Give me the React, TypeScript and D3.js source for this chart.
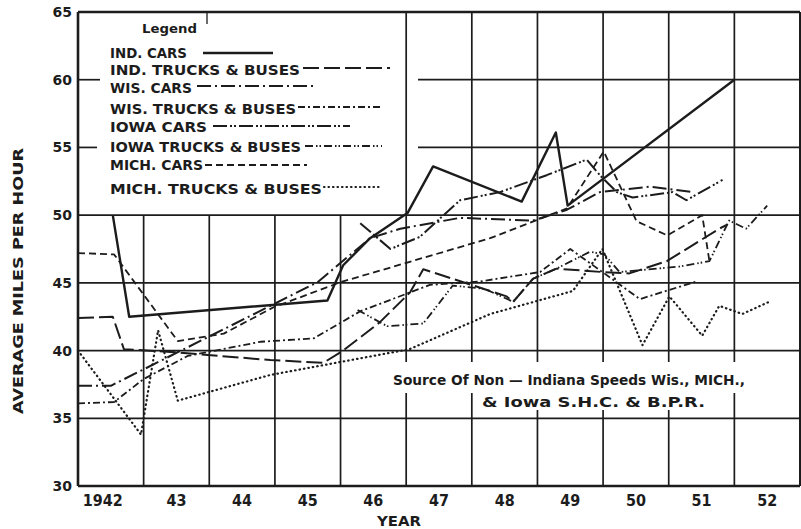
import { useMemo } from 'react';
import * as d3 from 'd3';

const WIDTH = 801;
const HEIGHT = 529;
const PLOT = { left: 78, right: 800, top: 12, bottom: 486 };
const INK = '#1c1c1c';
const FONT = '"DejaVu Sans", Arial, sans-serif';

// years are bands; lines are drawn at fractional years
const YEARS = [1942, 1943, 1944, 1945, 1946, 1947, 1948, 1949, 1950, 1951, 1952];
const YEAR_LABELS = ['1942', '43', '44', '45', '46', '47', '48', '49', '50', '51', '52'];
const MPH_TICKS = [30, 35, 40, 45, 50, 55, 60, 65];

const SERIES_NAMES = [
    'IND. CARS',
    'IND. TRUCKS & BUSES',
    'WIS. CARS',
    'WIS. TRUCKS & BUSES',
    'IOWA  CARS',
    'IOWA TRUCKS & BUSES',
    'MICH. CARS',
    'MICH. TRUCKS & BUSES',
];

// [year, mph]
const IND_CARS: [number, number][] = [
    [1942.03, 50.0], [1942.28, 42.5], [1945.3, 43.7], [1945.54, 46.3], [1945.95, 48.3],
    [1946.52, 50.15], [1946.91, 53.6], [1948.26, 51.0], [1948.78, 56.1], [1948.96, 50.7],
    [1951.5, 60.0],
];
const IND_TRUCKS: [number, number][] = [
    [1941.5, 42.4], [1942.03, 42.5], [1942.2, 40.1], [1942.91, 39.9], [1944.43, 39.3],
    [1945.24, 39.1], [1945.54, 40.0], [1946.1, 42.1], [1946.56, 44.3], [1946.76, 46.0],
    [1947.02, 45.6], [1948.03, 44.0], [1948.13, 43.6], [1948.43, 45.3], [1948.79, 46.05],
    [1949.49, 45.8], [1949.9, 45.7], [1950.47, 46.6], [1951.27, 49.0], [1951.39, 49.3],
];
const WIS_CARS: [number, number][] = [
    [1941.5, 37.4], [1942.0, 37.4], [1944.43, 43.3], [1945.15, 45.05], [1945.95, 48.3],
    [1946.41, 49.0], [1947.32, 49.8], [1948.43, 49.6], [1948.95, 50.4], [1949.45, 51.7],
    [1950.21, 52.1], [1950.86, 51.7],
];
const WIS_TRUCKS: [number, number][] = [
    [1941.5, 36.1], [1942.05, 36.2], [1942.5, 37.9], [1943.17, 39.6], [1944.28, 40.65],
    [1945.09, 40.9], [1945.8, 42.9], [1946.86, 44.85], [1947.62, 45.1], [1948.54, 45.8],
    [1949.0, 47.5], [1949.49, 45.8], [1950.06, 43.8], [1950.92, 45.1],
];
const IOWA_CARS: [number, number][] = [
    [1945.8, 49.4], [1946.26, 47.5], [1946.71, 48.4], [1947.32, 51.1], [1947.93, 51.7],
    [1948.64, 52.95], [1949.25, 54.1], [1949.45, 52.95], [1949.71, 51.7], [1949.95, 51.3],
    [1950.56, 51.7], [1950.77, 51.1], [1951.32, 52.6],
];
const IOWA_TRUCKS: [number, number][] = [
    [1945.76, 43.0], [1946.21, 41.8], [1946.76, 42.0], [1946.97, 43.3], [1947.21, 44.8],
    [1947.7, 44.55], [1948.13, 43.6], [1948.43, 45.3], [1948.79, 46.05], [1949.3, 47.3],
    [1949.52, 47.1], [1949.75, 45.8], [1950.66, 46.2], [1951.12, 46.6], [1951.42, 49.6],
    [1951.68, 49.0], [1952.0, 50.7],
];
const MICH_CARS: [number, number][] = [
    [1941.5, 47.2], [1942.05, 47.1], [1943.02, 40.7], [1943.72, 41.25], [1944.48, 43.2],
    [1945.5, 45.05], [1947.78, 48.3], [1948.95, 50.5], [1949.51, 54.7], [1950.01, 49.55],
    [1950.48, 48.5], [1951.01, 50.0], [1951.12, 46.6],
];
const MICH_TRUCKS: [number, number][] = [
    [1941.5, 40.0], [1942.46, 33.8], [1942.72, 41.5], [1943.02, 36.3], [1944.43, 38.2],
    [1946.55, 40.1], [1947.78, 42.7], [1949.04, 44.4], [1949.49, 47.5], [1950.1, 40.4],
    [1950.51, 44.0], [1951.01, 41.1], [1951.27, 43.3], [1951.62, 42.7], [1952.03, 43.6],
];

const SERIES = [IND_CARS, IND_TRUCKS, WIS_CARS, WIS_TRUCKS, IOWA_CARS, IOWA_TRUCKS, MICH_CARS, MICH_TRUCKS];

const STYLES = [
    { dash: undefined, width: 2.4, cap: 'butt' },
    { dash: '16 5', width: 2, cap: 'butt' },
    { dash: '14 4 2 4', width: 2, cap: 'butt' },
    { dash: '7 3 2 3', width: 1.8, cap: 'butt' },
    { dash: '14 3 2 2 2 3', width: 2, cap: 'butt' },
    { dash: '8 3 1.5 2 1.5 3', width: 1.8, cap: 'butt' },
    { dash: '7 4', width: 1.8, cap: 'butt' },
    { dash: '0.5 4', width: 2.2, cap: 'round' },
];

// legend layout: text baseline, text width, sample line
const LEGEND_LAYOUT = [
    { ty: 58, tw: 77, x1: 203, x2: 273, ly: 53 },
    { ty: 75, tw: 190, x1: 303, x2: 390, ly: 68 },
    { ty: 93, tw: 82, x1: 197, x2: 317, ly: 86 },
    { ty: 114, tw: 186, x1: 298, x2: 382, ly: 107 },
    { ty: 132, tw: 97, x1: 213, x2: 350, ly: 126 },
    { ty: 152, tw: 191, x1: 305, x2: 382, ly: 146 },
    { ty: 170, tw: 93, x1: 205, x2: 307, ly: 165 },
    { ty: 194, tw: 212, x1: 324, x2: 380, ly: 187 },
];

export default function App() {
    const xScale = useMemo(
        () => d3.scaleLinear().domain([1941.5, 1952.5]).range([PLOT.left, PLOT.right]),
        []
    );
    const yScale = useMemo(
        () => d3.scaleLinear().domain([30, 65]).range([PLOT.bottom, PLOT.top]),
        []
    );
    const line = d3
        .line<[number, number]>()
        .x((d) => xScale(d[0]))
        .y((d) => yScale(d[1]));

    // vertical grid at band boundaries; left ones stop under the legend
    const vGrid = YEARS.slice(0, -1).map((yr) => {
        const x = xScale(yr + 0.5);
        const top = yr + 0.5 < 1946 ? yScale(50) : yScale(65);
        return <line key={yr} x1={x} x2={x} y1={top} y2={yScale(30)} stroke={INK} strokeWidth={1.7} />;
    });

    const hGrid = MPH_TICKS.filter((m) => m > 30 && m < 65).map((m) => {
        const x1 = m > 50 ? 418 : PLOT.left;
        return <line key={m} x1={x1} x2={PLOT.right} y1={yScale(m)} y2={yScale(m)} stroke={INK} strokeWidth={1.7} />;
    });

    return (
        <div style={{ position: 'absolute', left: 0, top: 0 }}>
            <svg width={WIDTH} height={HEIGHT} viewBox={`0 0 ${WIDTH} ${HEIGHT}`} style={{ display: 'block', background: '#fff' }}>
                {vGrid}
                {hGrid}
                {/* frame */}
                <line x1={PLOT.left} x2={PLOT.right} y1={yScale(65)} y2={yScale(65)} stroke={INK} strokeWidth={2.6} />
                <line x1={PLOT.left} x2={PLOT.right} y1={yScale(30)} y2={yScale(30)} stroke={INK} strokeWidth={2.6} />
                <line x1={PLOT.left} x2={PLOT.left} y1={yScale(65)} y2={yScale(30)} stroke={INK} strokeWidth={2.6} />
                <line x1={PLOT.right} x2={PLOT.right} y1={yScale(65)} y2={yScale(30)} stroke={INK} strokeWidth={2} />
                {/* stubs left of legend */}
                <line x1={PLOT.left} x2={100} y1={yScale(60)} y2={yScale(60)} stroke={INK} strokeWidth={1.7} />
                <line x1={PLOT.left} x2={97} y1={yScale(55)} y2={yScale(55)} stroke={INK} strokeWidth={1.7} />
                <line x1={207} x2={207} y1={yScale(65)} y2={yScale(65) + 12} stroke={INK} strokeWidth={1.3} />

                {/* source note box */}
                <rect x={388} y={362} width={360} height={31} fill="#fff" />
                <rect x={480} y={393} width={232} height={17} fill="#fff" />

                {SERIES.map((s, i) => (
                    <path
                        key={i}
                        d={line(s) || ''}
                        fill="none"
                        stroke={INK}
                        strokeWidth={STYLES[i].width}
                        strokeDasharray={STYLES[i].dash}
                        strokeLinecap={STYLES[i].cap as 'butt' | 'round'}
                        strokeLinejoin="round"
                    />
                ))}

                {/* legend */}
                <g fontFamily={FONT} fontWeight="bold" fill={INK}>
                    <text x={142} y={33} fontSize={13} textLength={55} lengthAdjust="spacingAndGlyphs">
                        Legend
                    </text>
                    {SERIES_NAMES.map((name, i) => {
                        const l = LEGEND_LAYOUT[i];
                        return (
                            <g key={name}>
                                <text x={110} y={l.ty} fontSize={13.5} textLength={l.tw} lengthAdjust="spacingAndGlyphs">
                                    {name}
                                </text>
                                <line
                                    x1={l.x1}
                                    x2={l.x2}
                                    y1={l.ly}
                                    y2={l.ly}
                                    stroke={INK}
                                    strokeWidth={STYLES[i].width}
                                    strokeDasharray={STYLES[i].dash}
                                    strokeLinecap={STYLES[i].cap as 'butt' | 'round'}
                                />
                            </g>
                        );
                    })}
                </g>

                {/* axis labels */}
                <g fontFamily={FONT} fontWeight="bold" fill={INK}>
                    {MPH_TICKS.map((m) => (
                        <text key={m} x={72} y={yScale(m) + 5} fontSize={14} textAnchor="end">
                            {m}
                        </text>
                    ))}
                    {YEARS.map((yr, i) => {
                        const label = YEAR_LABELS[i];
                        const cx = xScale(yr) - (i === 0 ? 8 : 0);
                        return (
                            <text
                                key={yr}
                                x={cx - (label.length * 10) / 2}
                                y={506}
                                fontSize={15}
                                textLength={label.length * 10}
                                lengthAdjust="spacingAndGlyphs"
                            >
                                {label}
                            </text>
                        );
                    })}
                    <text x={377} y={526} fontSize={14} textLength={44} lengthAdjust="spacingAndGlyphs">
                        YEAR
                    </text>
                    <text
                        transform="translate(23,414) rotate(-90)"
                        x={0}
                        y={0}
                        fontSize={13.5}
                        textLength={266}
                        lengthAdjust="spacingAndGlyphs"
                    >
                        AVERAGE MILES PER HOUR
                    </text>
                    <text x={393} y={385} fontSize={14} textLength={352} lengthAdjust="spacingAndGlyphs">
                        Source Of Non — Indiana Speeds Wis., MICH.,
                    </text>
                    <text x={482} y={407} fontSize={14} textLength={223} lengthAdjust="spacingAndGlyphs">
                        &amp; Iowa  S.H.C.  &amp;  B.P.R.
                    </text>
                </g>
            </svg>
        </div>
    );
}
